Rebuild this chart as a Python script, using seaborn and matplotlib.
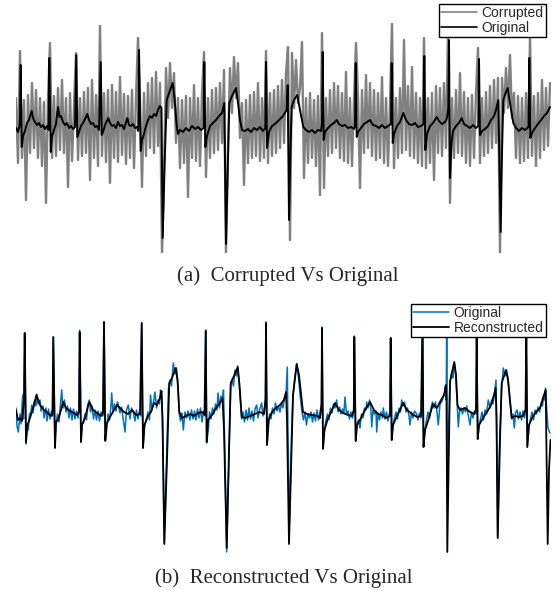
import numpy as np
import pandas as pd
import matplotlib
matplotlib.use("Agg")
import matplotlib.pyplot as plt
import seaborn as sns

sns.set_theme(style="white")
plt.rcParams["font.family"] = ["Liberation Sans", "DejaVu Sans"]

# ---------------- data (x = sample position, y = amplitude) ----------------
# Panel (a): corrupted signal, evenly sampled every 2 samples starting at 16
corrupted = [
    30, -35, 77, -30, 28, -72, 33, -25, 45, -20,
    38, -30, 30, -38, 26, -75, 30, 85, -30, 32,
    -28, 40, -22, 48, -25, 30, -59, 35, -33, 20,
    75, -32, 30, -28, 36, -25, 40, -52, 48, -30,
    33, -38, 102, -28, 35, -34, 38, -55, 43, -30,
    36, -34, 51, -27, 34, -36, 32, -30, 38, -40,
    30, 90, 28, -59, 35, -28, 45, -20, 50, -25,
    56, -18, 45, -125, -45, 60, 10, 65, 20, 55,
    -15, 30, -40, 28, -35, 32, -69, 30, -30, 43,
    -33, 30, -38, 35, 76, -49, 30, -30, 38, -25,
    40, -22, 45, -15, 58, -125, -20, 60, 15, 71,
    30, 65, -10, 25, -57, 28, -35, 33, -30, 36,
    -28, 45, -33, 30, -30, 77, -35, 35, -28, 38,
    -25, 42, -20, 48, -15, 55, 81, -112, 75, 20,
    68, 25, 40, 86, -50, 30, -35, 35, -30, 28,
    -38, 32, -67, 95, -60, 30, -28, 38, -25, 45,
    -20, 42, -30, 35, -33, 56, -35, 30, -38, 28,
    85, 30, -60, 38, -25, 53, -20, 45, -28, 38,
    -32, 35, -30, 51, -35, 30, -38, 25, 104, -40,
    30, -30, 40, -25, 88, -22, 42, -28, 61, -30,
    35, -35, 30, -38, 90, -40, 30, -35, 35, -52,
    42, -25, 40, -28, 45, -20, 95, -75, 30, -30,
    38, -25, 55, -28, 36, -35, 30, -38, 33, -30,
    35, 80, -35, 30, -28, 36, -25, 42, -20, 48,
    -15, 50, -125, 50, 15, 60, 20, 73, 10, 35,
    -30, 32, -35, 30, -33, 35, -30, 91, -28, 32,
    -38, 35, -30, 48, -22, 40, -18, 45,
]
corrupted_start = 16
corrupted_step = 2

# Panel (a): original signal (x, amplitude)
original_a = [
    (16, 0), (18, -4), (19.5, 2),
    (20, 10), (20.7, 63), (21.7, -19), (23, -8), (25, -3), (27, 5), (29, 8), (31.7, 17), (33, 10),
    (35, 6), (37, 3), (39, 5), (41, 1), (43, 3), (45, -1), (47, 2), (48.5, -2),
    (49.3, 70), (50.7, -24), (52, -8), (54, -2), (56, 4), (58, 21), (59.5, 11), (61, 12), (63, 6),
    (65, 3), (67, 5), (69, 0), (71, 2), (73, -1), (75, 1),
    (76.3, 73), (77.3, -9), (79, -4), (81, 2), (83, 5), (85, 9), (87.3, 14), (89, 8), (91, 4),
    (93, 5), (95, 1), (97, 2), (99, -2),
    (100.7, 66), (101.7, -7), (103, -4), (105, 3), (108.3, 10), (110, 5), (112, 2), (114, 3),
    (116, 0), (118, 6), (120, 2), (122, 3), (124, -1), (127.3, 10), (129, 3), (131, 2), (133, 4),
    (135, 0), (137, 1), (138.2, -3),
    (139, 78), (140.7, -23), (142, -12), (144, -6), (146, 2), (148, 8), (150, 12), (152, 10),
    (154, 14), (156, 12), (158, 18), (160, 22), (161.5, 20),
    (162.7, -110), (164.5, -40), (166.7, 28), (169, 35), (172.7, 45), (174.5, 30), (176.7, 2),
    (178, -6), (180, -2), (183, -4), (186, 0), (189, -3), (192, 2), (195, -1), (198, 1),
    (201, -2), (203.5, 0),
    (204.3, 66), (205.3, -19), (207, -8), (210, 2), (213, 5), (216, 8), (219, 12), (222, 15),
    (224.3, 25),
    (226, -116), (228, -30), (229.3, 25), (232, 32), (236, 40), (238, 25), (240, 8), (242, -2),
    (245, -3), (248, -1), (251, -4), (254, 0), (257, -2), (260, 1), (263, -3), (265.3, 0),
    (266, 66), (267, -20), (269, -4), (272, 2), (276, 5), (280, 9), (283, 12), (286.7, 18),
    (287.7, 43),
    (289, -92), (290.5, -20), (291.7, 21), (294, 28), (297.3, 33), (300, 18), (303.3, 1),
    (306, -2), (309, -4), (312, -2), (315, -5), (318, -2), (321, -3), (322, 5),
    (322.7, 76), (323.7, -12), (325, -4), (328, 0), (331, 3), (334, 5), (336.7, 8), (339, 4),
    (342, 2), (345, 3), (348, 0), (351, 1), (354, -1), (355, 2),
    (355.7, 65), (356.7, -9), (358, -4), (361, 0), (364, 4), (367, 6), (370, 8), (373, 3),
    (376, 2), (379, 0), (382, 3), (385, 0), (388, 2), (391, 4),
    (391.7, 65), (392.7, -15), (394, -6), (397, 2), (400, 6), (403.3, 15), (406, 8), (409, 4),
    (412, 3), (415, 5), (418, 1), (421, 2), (423.5, 4),
    (424.3, 72), (425.3, -22), (427, -6), (430, 2), (433, 5), (436.7, 11), (439, 7), (442, 4),
    (445, 6), (447, 10), (448.3, 20),
    (449, 88), (450, -50), (451.5, -15), (453, -3), (456, 2), (459, 5), (461.7, 10), (464, 4),
    (467, 2), (470, 0), (473, 3), (476, 0), (478.2, 2),
    (479, 69), (480, -7), (482, -3), (485, -1), (488, 2), (491, 8), (494, 12), (496, 18),
    (498.3, 28),
    (500.7, -104), (502, -25), (503.3, 28), (505.5, 35), (507.7, 40), (510, 25), (513.3, 5),
    (516, 0), (519, -3), (522, 0), (525, -2), (528.5, 1),
    (529.3, 70), (530.3, -10), (532, -5), (535, 0), (538, 4), (541, 8), (544, 12), (547, 15),
    (550, 21),
]

# Panel (b): original signal (x, amplitude)
original_b = [
    (16, 8), (17, -10), (18.3, -16), (20, 2), (21, -8), (22.7, 21), (23.5, -3), (24, 20),
    (24.7, 83), (26, -28), (27, -8), (28.3, -14), (29.5, 2), (31, 4), (31.7, 11), (33, 3),
    (34.5, 15), (36, 10), (36.7, 22), (38, 12), (40, 16), (41, 5), (43, 10), (44, -2), (46, 8),
    (47, -5), (48.5, 7), (50, -3), (51.5, 5), (52.5, 0),
    (53.3, 79), (55, -30), (56, -8), (57.5, 2), (59, -6), (60.5, 12), (61.7, 26), (63, 8),
    (64.5, 16), (66, 4), (67.5, 10), (69, -2), (70.5, 8), (72, -4), (73.5, 7), (75, -3),
    (76.5, 5), (78, -2), (79, 6),
    (79.7, 86), (81, -26), (82, -8), (83.3, -7), (85, 2), (86.5, -4), (88, 12), (89.3, 16),
    (90.5, 4), (92, 10), (93.5, -3), (95, 6), (96.5, -4), (98, 5), (99.5, -5), (101, 4), (103, 0),
    (104, 94), (105.3, -24), (106.7, -14), (108, 2), (109.5, -4), (111, 10), (111.7, 23),
    (113, 4), (114.5, 12), (116, 5), (117.5, 14), (118.3, 11), (120, 3), (121.5, 9), (123, -2),
    (125, -16), (126.5, 6), (128.3, 11), (130, -3), (131.5, 8), (133.3, 4), (135, -5),
    (136.5, 6), (138, -3), (139.5, 5), (141, 0),
    (141.7, 93), (143, -32), (144.5, -10), (146.7, -2), (148, 4), (149.5, -4), (150.5, 21),
    (152, 6), (153.5, 14), (155, 24), (156.5, 8), (158, 16), (159.5, 12), (160.5, 26), (161.5, 22),
    (162.5, -2), (164.3, -126), (166.7, -40), (168.5, 28), (170, 36), (171.5, 30), (173.3, 53),
    (175, 42), (176.5, 48), (178, 30), (179.3, 2), (180.5, -5), (182, 3), (183.3, -14), (185, 4),
    (186.7, -2), (188, 5), (190, -4), (191.5, 6), (193, -3), (194.5, 5), (196, -4), (197.5, 7),
    (199, -2), (200.5, 8), (202, -6), (203.5, 5), (205, 0),
    (205.7, 86), (206.7, -27), (208.3, -14), (209.5, 4), (211, -3), (212.5, 8), (214, 2),
    (215.5, 12), (217, 6), (218, 23), (219.5, 8), (221, 20), (222.5, 16), (223.5, 26),
    (224.3, -10), (226.7, -136), (229, -40), (230.7, 30), (232, 36), (233.5, 30), (235, 46),
    (236.5, 40), (237.7, 50), (239.5, 28), (241.7, -3), (243, 4), (244.5, -6), (246, 6),
    (247.5, -4), (249, 8), (250.5, -3), (252, 5), (253.5, -5), (255, 7), (256.7, 11), (258, -2),
    (259.5, 6), (261.7, 13), (263, 0), (264.5, 8), (265.5, 18),
    (266, 94), (267, -29), (268.3, -14), (269.5, 2), (271, -3), (272.5, 8), (274, 2),
    (275.5, 13), (277, 5), (278.5, 10), (280, 4), (281.5, 13), (283, 8), (284.5, 18), (286, 20),
    (287.3, 49),
    (288, -20), (289.5, -106), (291.5, -20), (293, 20), (295, 40), (296.7, 52), (298.5, 38),
    (300, 22), (302, 4), (303.5, -4), (305, 4), (306.5, -9), (308, 2), (309.5, -2), (311, 4),
    (312.5, -6), (314, 3), (315.5, -5), (317, 6), (318.5, -4), (320, 4), (321.5, 12),
    (322, 89), (323, -32), (324.5, -14), (326, -4), (327.5, 2), (329, -4), (330.5, 8), (332, 3),
    (333.5, 12), (335, 8), (336.7, 16), (338, 4), (339.5, 9), (341, 2), (342.5, 7), (344, 4),
    (345, 19), (346.5, 2), (348, 5), (349.5, -3), (351, 4), (352.5, -2), (353.8, 6),
    (354.3, 80), (355.7, -25), (357, -8), (358.5, -4), (360, -12), (361.5, 2), (363, -2),
    (364.5, 8), (366, 6), (366.7, 14), (368, 8), (369.5, 16), (371, 6), (371.7, -11), (373, 6),
    (374.5, 2), (376, 5), (376.7, -16), (378, 3), (379.5, -4), (381, 4), (382.5, -2), (383.3, 8),
    (385, -3), (386.5, 4), (388, -5), (389.5, 3), (390.2, 0),
    (390.7, 78), (391.7, -24), (393, -9), (394.5, -2), (396, 4), (397.5, -3), (399, 8),
    (400.5, 4), (401.7, 16), (403, 10), (404.5, 14), (406, 4), (407.5, 8), (409, 0), (410, -9),
    (411.5, 4), (413, -2), (414.5, 5), (416.7, 2), (418, -4), (419.5, 3), (421, -2), (422, 4),
    (422.5, 110), (423.5, -31), (425, -14), (426.5, -4), (428, 4), (429.5, -2), (431, 8),
    (432.5, 14), (434, 8), (435.5, 14), (437, 4), (438.3, -9), (440, 12), (441.7, 14), (443, 18),
    (444.5, 22), (445.5, 30), (446.3, 16),
    (446.7, 110), (447.3, -59), (448.3, -20), (450, 34), (451.5, 42), (453, 38), (454.3, 52),
    (455.5, 44), (457, 16), (458.3, -11), (459.5, 4), (461, 8), (462.5, 2), (464, 8), (465.5, 4),
    (466.7, 10), (468, 2), (470, -9), (471.5, 4), (473, -2), (474.5, 5), (476, 2),
    (476.7, 80), (477.7, -23), (479, -10), (480.5, -3), (482, 4), (483.5, -4), (485, 6),
    (486.5, 2), (488.3, 16), (490, 8), (491.7, 16), (493, 12), (494.5, 22), (496, 36),
    (496.6, -2), (497.7, -122), (499.5, -30), (501.7, 30), (503.3, 48), (505, 40), (506.5, 46),
    (508, 38), (510, 15), (511.7, -3), (513, 2), (514.3, -12), (515.5, 3), (517, 6), (518.5, -3),
    (520, 4), (521.5, -4), (523, 5), (524.5, -2), (525.8, 6),
    (526.3, 83), (527.3, -31), (529, -10), (530.5, -3), (532, 4), (533.5, -4), (535, 6),
    (536.5, 2), (538, 9), (539.5, 4), (541, 12), (542.5, 10), (543.3, 18), (544.5, 16),
    (545.5, 28), (546.5, 10), (548, -12), (550, -17),
]

# Panel (b): reconstructed signal (x, amplitude)
reconstructed = [
    (16, 6), (18, -4), (20, -2), (22, -5), (24, 16), (24.7, 83), (26, -26), (27.5, -9), (30, -2),
    (33, 8), (36.5, 21), (40, 11), (44, 6), (48, 3), (51, 0), (52.5, 2),
    (53.3, 79), (55, -32), (56, -6), (58, -4), (61, 6), (63, 14), (66, 8), (70, 5), (74, 3),
    (77, 1), (79, 4),
    (79.7, 84), (81, -26), (82, -9), (85, -2), (88, 10), (89.5, 14), (93, 6), (97, 3), (101, 0),
    (103, 3),
    (104, 94), (105.3, -25), (106.5, -8), (110, -1), (114, 6), (117, 11), (120, 8), (124, 4),
    (128, 2), (132, 6), (136, 1), (140, 2),
    (141.7, 93), (143, -32), (144.5, -9), (148, 0), (151, 4), (154, 13), (157, 11), (160, 18),
    (161.5, 25),
    (162.5, -4), (164.3, -128), (167, -44), (169.3, 33), (172, 38), (175.7, 48), (177.5, 36),
    (179.3, 4), (182, -2), (186, 0), (190, 2), (194, 0), (198, 3), (202, 4), (204.5, 1),
    (205.7, 85), (206.7, -26), (208, -4), (212, 1), (216, 8), (220, 13), (222.5, 18),
    (224, -14), (226.7, -132), (229, -34), (230.7, 33), (234, 40), (237.7, 49), (239.5, 31),
    (241.7, -1), (245, -2), (250, 0), (255, 2), (260, 4), (264, 2), (265.5, 16),
    (266, 93), (267, -29), (268.5, -4), (272, 4), (276, 8), (280, 11), (284, 16), (286, 24),
    (287, -4), (289, -128), (291.5, -34), (293, 21), (296.7, 52), (299, 41), (303, 4), (307, 2),
    (312, 1), (317, 0), (320, -2), (321.5, 11),
    (322, 88), (323, -33), (324.5, -14), (328, -2), (332, 6), (335, 13), (339, 6), (343, 3),
    (348, 1), (352, 0), (353.8, 6),
    (354.3, 79), (355.7, -25), (357, -9), (361, -2), (365, 6), (370, 14), (374, 6), (378, 2),
    (382, 1), (386, -2), (390, 0),
    (390.7, 78), (391.7, -24), (393, -9), (397, 0), (400, 6), (403, 13), (407, 6), (412, 2),
    (417, -1), (421, 0),
    (422.5, 95), (423.5, -31), (425, -14), (429, -2), (433, 12), (437, 8), (441, 16), (444, 21),
    (446, 31),
    (446.5, 16), (447.3, -136), (449, -24), (450, 34), (452, 44), (454.3, 54), (456, 41),
    (457.5, 11), (460, 6), (465, 8), (470, 4), (474, 2), (476, 6),
    (476.7, 79), (477.7, -23), (479, -9), (483, -2), (487, 4), (491, 11), (494, 21), (495.7, 28),
    (496.5, -4), (497.7, -122), (500, -24), (501.7, 33), (504, 40), (506, 46), (508, 36),
    (511.7, -2), (515, 0), (519, -1), (523, 0), (525.5, 6),
    (526.3, 82), (527.3, -31), (529, -9), (532, -2), (536, 4), (540, 8), (543, 18), (545.7, 26),
    (547.7, -128), (549, -54), (550.5, -24),
]

captions = ["(a)  Corrupted Vs Original", "(b)  Reconstructed Vs Original"]
labels_a = ["Corrupted", "Original"]
labels_b = ["Original", "Reconstructed"]

# ---------------- figure ----------------
W, H = 557, 595
fig = plt.figure(figsize=(W / 100, H / 100), dpi=100)


def axes_px(left, top, right, bottom):
    return fig.add_axes([left / W, 1 - bottom / H, (right - left) / W, (bottom - top) / H])


ax_a = axes_px(16, 2, 551, 253)
ax_b = axes_px(16, 302, 551, 553)

gray_x = corrupted_start + corrupted_step * np.arange(len(corrupted))
df_c = pd.DataFrame({"x": gray_x, "y": corrupted})
df_oa = pd.DataFrame(original_a, columns=["x", "y"])
df_ob = pd.DataFrame(original_b, columns=["x", "y"])
df_r = pd.DataFrame(reconstructed, columns=["x", "y"])

sns.lineplot(data=df_c, x="x", y="y", ax=ax_a, color="#808080", lw=1.7,
             estimator=None, sort=False, label=labels_a[0])
sns.lineplot(data=df_oa, x="x", y="y", ax=ax_a, color="black", lw=1.4,
             estimator=None, sort=False, label=labels_a[1])

sns.lineplot(data=df_ob, x="x", y="y", ax=ax_b, color="#0072BD", lw=1.1,
             estimator=None, sort=False, label=labels_b[0])
sns.lineplot(data=df_r, x="x", y="y", ax=ax_b, color="black", lw=1.3,
             estimator=None, sort=False, label=labels_b[1])

ax_a.set_xlim(16, 551)
ax_a.set_ylim(-125, 126)
ax_b.set_xlim(16, 551)
ax_b.set_ylim(-137, 114)

for ax in (ax_a, ax_b):
    ax.set_axis_off()

leg_kw = dict(frameon=True, fancybox=False, edgecolor="black", framealpha=1,
              borderpad=0.15, labelspacing=0.05, handlelength=2.6, handletextpad=0.3,
              borderaxespad=0.0, fontsize=10)
la = ax_a.legend(loc="upper right", bbox_to_anchor=(545.5 / W, 1 - 4 / H),
                 bbox_transform=fig.transFigure, **leg_kw)
lb = ax_b.legend(loc="upper right", bbox_to_anchor=(545.5 / W, 1 - 304 / H),
                 bbox_transform=fig.transFigure, **leg_kw)
for lg in (la, lb):
    lg.get_frame().set_linewidth(1.0)
for line in la.get_lines():
    line.set_linewidth(1.2)

fig.text(288 / W, 1 - 276 / H, captions[0], ha="center", va="center",
         family="Liberation Serif", fontsize=15)
fig.text(284 / W, 1 - 578 / H, captions[1], ha="center", va="center",
         family="Liberation Serif", fontsize=15)

fig.savefig("out.png", dpi=100)
